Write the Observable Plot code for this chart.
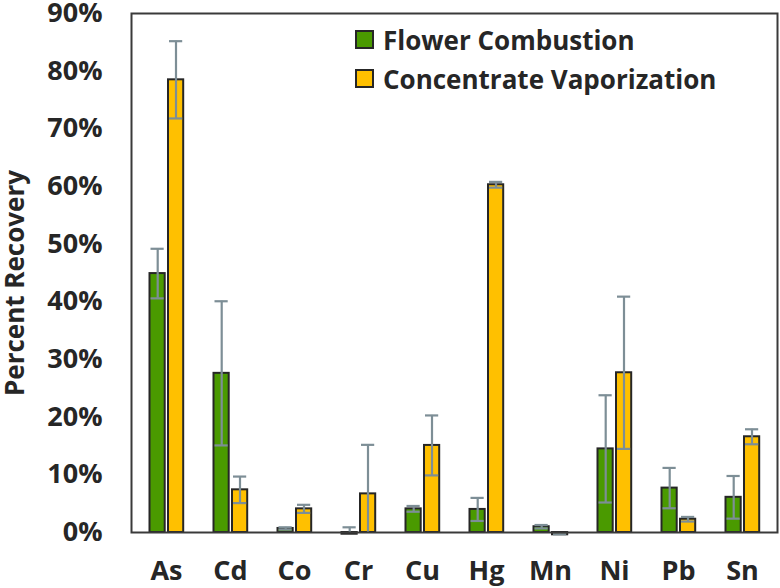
<!DOCTYPE html>
<html>
<head>
<meta charset="utf-8">
<script src="https://cdn.jsdelivr.net/npm/d3@7"></script>
<script src="https://cdn.jsdelivr.net/npm/@observablehq/plot@0.6"></script>
<style>
  html, body { margin: 0; padding: 0; background: #fff; }
  #wrap { position: relative; width: 780px; height: 588px; font-family: "Open Sans", sans-serif; }
  #legend { position: absolute; left: 355px; top: 20px; font-weight: 700; font-size: 26px; color: #262626; }
  .row { display: flex; align-items: center; height: 39px; }
  .sw { width: 15px; height: 15px; border: 2px solid #262626; margin-right: 9px; }
</style>
</head>
<body>
<div id="wrap"><div id="legend"></div></div>
<script>
const elements = ["As", "Cd", "Co", "Cr", "Cu", "Hg", "Mn", "Ni", "Pb", "Sn"];
const seriesNames = ["Flower Combustion", "Concentrate Vaporization"];
const colors = ["#4a9a00", "#ffc000"];
// percent recovery (%)
const flowerValues = [44.9, 27.6, 0.7, -0.3, 4.1, 4.0, 1.0, 14.5, 7.7, 6.1];
const flowerErrors = [4.3, 12.5, 0.2, 1.2, 0.5, 2.0, 0.3, 9.3, 3.5, 3.7];
const concValues = [78.5, 7.4, 4.1, 6.7, 15.1, 60.3, -0.4, 27.7, 2.3, 16.6];
const concErrors = [6.7, 2.3, 0.7, 8.5, 5.2, 0.5, 0.1, 13.2, 0.4, 1.3];
const yTicks = [0, 10, 20, 30, 40, 50, 60, 70, 80, 90];
const yTitle = "Percent Recovery";

const data = [];
elements.forEach((el, i) => {
  data.push({el, s: 0, v: flowerValues[i] / 100, e: flowerErrors[i] / 100});
  data.push({el, s: 1, v: concValues[i] / 100, e: concErrors[i] / 100});
});
const flower = data.filter(d => d.s === 0);
const conc = data.filter(d => d.s === 1);

const ink = "#262626";
const errColor = "#7d8e96";
// bar placement inside each category band (px)
const bandIns = [{l: 15.5, r: 33.3, dx: -8.8}, {l: 34, r: 14.8, dx: 9.5}];

function seriesMarks(arr, k) {
  const ins = bandIns[k];
  const lo = d => Math.max(0, d.v - d.e);
  const hi = d => d.v + d.e;
  return [
    Plot.barY(arr, {x: "el", y1: 0, y2: "v", fill: colors[k], stroke: ink, strokeWidth: 2,
      insetLeft: ins.l, insetRight: ins.r}),
    Plot.ruleX(arr, {x: "el", y1: lo, y2: hi, stroke: errColor, strokeWidth: 2.2, dx: ins.dx}),
    Plot.tickY(arr.filter(d => d.v - d.e > 0), {x: "el", y: lo, stroke: errColor, strokeWidth: 2.2,
      insetLeft: ins.l + 1, insetRight: ins.r + 1}),
    Plot.tickY(arr, {x: "el", y: hi, stroke: errColor, strokeWidth: 2.2,
      insetLeft: ins.l + 1, insetRight: ins.r + 1})
  ];
}

const chart = Plot.plot({
  width: 780,
  height: 588,
  marginLeft: 131,
  marginRight: 3,
  marginTop: 13,
  marginBottom: 56,
  style: {fontFamily: "'Open Sans', sans-serif", fontWeight: 700, color: ink, background: "#fff", overflow: "visible"},
  x: {domain: elements, padding: 0},
  y: {domain: [0, 0.9]},
  marks: [
    Plot.axisX({tickSize: 0, tickPadding: 28, fontSize: 27, fontWeight: 700, label: null}),
    Plot.axisY(yTicks.map(t => t / 100), {tickSize: 0, tickPadding: 29, fontSize: 27, fontWeight: 700,
      tickFormat: d3.format(".0%"), label: null}),
    Plot.text([yTitle], {frameAnchor: "left", textAnchor: "middle", rotate: -90, dx: -116, dy: 10,
      fontSize: 26, fontWeight: 700, fill: ink, text: d => d}),
    ...seriesMarks(flower, 0),
    ...seriesMarks(conc, 1),
    Plot.frame({stroke: "#3a3a3a", strokeWidth: 2})
  ]
});
document.getElementById("wrap").prepend(chart);

const legend = document.getElementById("legend");
seriesNames.forEach((name, i) => {
  const row = document.createElement("div");
  row.className = "row";
  const sw = document.createElement("div");
  sw.className = "sw";
  sw.style.background = colors[i];
  const t = document.createElement("span");
  t.textContent = name;
  row.append(sw, t);
  legend.append(row);
});
</script>
</body>
</html>
